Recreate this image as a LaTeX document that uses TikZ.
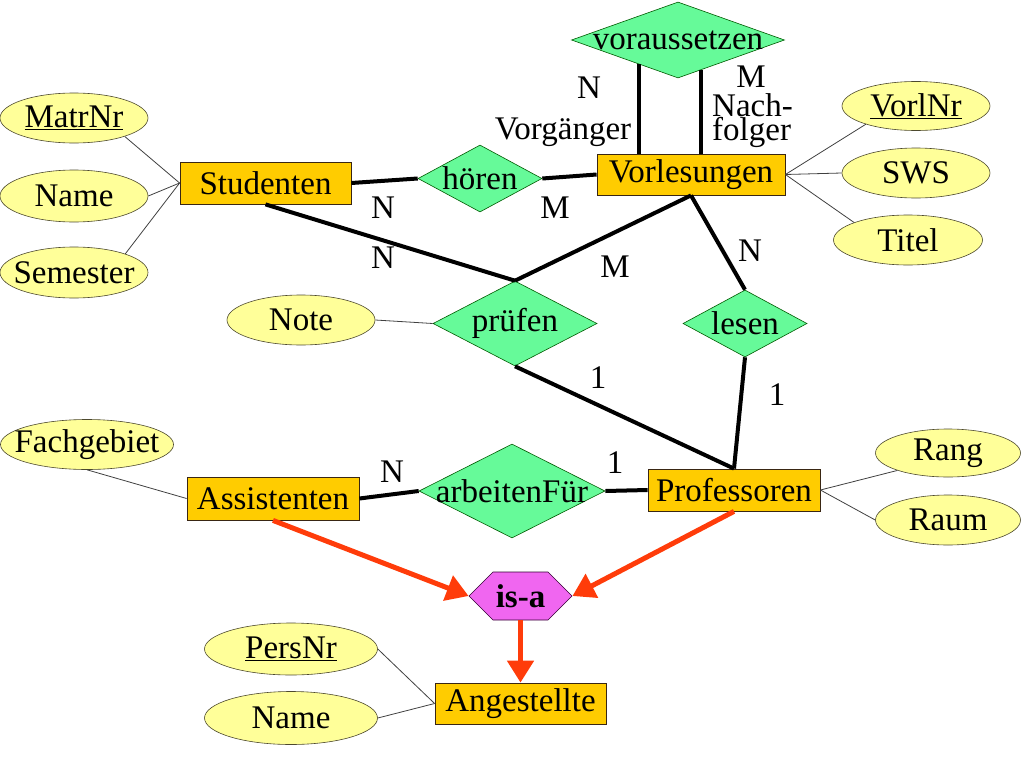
\documentclass[tikz,border=0pt]{standalone}
\usepackage{fontspec}
\setmainfont{Liberation Serif}
\usepackage{tikz}
\usetikzlibrary{shapes,arrows.meta}

\definecolor{entorange}{RGB}{255,204,0}
\definecolor{relgreen}{RGB}{102,250,153}
\definecolor{attryellow}{RGB}{255,255,153}
\definecolor{isapink}{RGB}{240,102,240}
\definecolor{isared}{RGB}{255,60,10}

\begin{document}
\begin{tikzpicture}[x=1pt, y=-1pt, font=\fontsize{33}{36}\selectfont]
      \tikzstyle{zerowidth}=[execute at begin node={\hbox to 0pt\bgroup\hss}, execute at end node={\hss\egroup}]
      \tikzstyle{entity}=[rectangle, draw=black!70!brown, line width=0.8pt, fill=entorange, inner sep=0pt, minimum height=42pt]
      \tikzstyle{relation}=[diamond, draw=green!35!black, line width=0.6pt, fill=relgreen, inner sep=0pt, zerowidth]
      \tikzstyle{attribute}=[ellipse, draw=black!60!olive, line width=0.6pt, fill=attryellow, inner sep=0pt, minimum width=148pt, minimum height=50pt, zerowidth]
      \tikzstyle{isa}=[signal, signal to=east and west, signal pointer angle=90, draw=black!60!violet, line width=0.6pt, fill=isapink, inner sep=0pt, minimum width=103pt, minimum height=48pt, font=\fontsize{33}{36}\selectfont\bfseries]
      \tikzstyle{card}=[inner sep=0pt, anchor=base]
      \tikzstyle{link}=[draw, line width=4pt]
      \tikzstyle{attrlink}=[draw=black!75, line width=0.8pt]
      \tikzstyle{isalink}=[draw=isared, line width=5pt, -{Triangle[length=22pt,width=26pt]}]
      \useasboundingbox (0,0) rectangle (1024,768);

      % entities
      \node[entity, minimum width=171pt] (stud) at (265.5,183) {Studenten};
      \node[entity, minimum width=188pt, minimum height=41pt] (vorl) at (691,174.5) {Vorlesungen};
      \node[entity, minimum width=172pt, minimum height=43pt] (assi) at (273,498.5) {Assistenten};
      \node[entity, minimum width=172pt] (prof) at (734,490) {Professoren};
      \node[entity, minimum width=171pt, minimum height=41pt] (ange) at (520.5,703.5) {Angestellte};

      % relationships
      \node[relation, minimum width=213pt, minimum height=76pt] (vora) at (678,40) {voraussetzen};
      \node[relation, minimum width=124pt, minimum height=67pt] (hoer) at (480,178.5) {hören};
      \node[relation, minimum width=164pt, minimum height=85pt] (pruef) at (515,323.5) {prüfen};
      \node[relation, minimum width=124pt, minimum height=67pt] (lese) at (745,323.5) {lesen};
      \node[relation, minimum width=186pt, minimum height=94pt] (arbf) at (512,491) {arbeitenFür};
      \node[isa] (isa) at (520.5,596) {is-a};

      % attributes
      \node[attribute] (matr) at (74,118) {\underline{MatrNr}};
      \node[attribute, minimum height=52pt] (name) at (74,196) {Name};
      \node[attribute, minimum height=51pt] (seme) at (74,272.5) {Semester};
      \node[attribute, minimum height=49pt] (vnr) at (916,106) {\underline{VorlNr}};
      \node[attribute] (sws) at (916,173) {SWS};
      \node[attribute, minimum width=149pt] (titel) at (908,240) {Titel};
      \node[attribute] (note) at (301,320) {Note};
      \node[attribute, minimum width=173pt] (fach) at (87,444.5) {Fachgebiet};
      \node[attribute, minimum width=145pt, minimum height=48pt] (rang) at (948,453) {Rang};
      \node[attribute, minimum width=145pt] (raum) at (948,520) {Raum};
      \node[attribute, minimum width=173pt, minimum height=52pt] (pers) at (291,649) {\underline{PersNr}};
      \node[attribute, minimum width=173pt, minimum height=53pt] (aname) at (291,718) {Name};

      % cardinalities and roles
      \node[card] (cv1) at (589,98) {N};
      \node[card] (vorg) at (563,139) {Vorgänger};
      \node[card] (cv2) at (751,87) {M};
      \node[card, anchor=base west] (nach) at (712,116) {Nach-};
      \node[card, anchor=base west] (folg) at (712,140) {folger};
      \node[card] (ch1) at (383,218) {N};
      \node[card] (ch2) at (555,218) {M};
      \node[card] (cp1) at (383,268) {N};
      \node[card] (cp2) at (615,277) {M};
      \node[card] (cp3) at (598,388) {1};
      \node[card] (cl1) at (750,261) {N};
      \node[card] (cl2) at (777,405) {1};
      \node[card] (ca1) at (392,482) {N};
      \node[card] (ca2) at (615,473) {1};

      \path[link]
      (stud.east) edge (hoer.west)
      (hoer.east) edge (vorl.west)
      (stud.south) edge (pruef.north)
      (vorl.south) edge (pruef.north)
      (vorl.south) edge (lese.north)
      (pruef.south) edge (prof.north)
      (lese.south) edge (prof.north)
      (assi.east) edge (arbf.west)
      (arbf.east) edge (prof.west)
      (vora.212) edge (vora.212 |- vorl.north)
      (vora.308) edge (vora.308 |- vorl.north);

      \path[attrlink]
      (matr.-20) edge (stud.west)
      (name.east) edge (stud.west)
      (seme.20) edge (stud.west)
      (vnr.200) edge (vorl.east)
      (sws.west) edge (vorl.east)
      (titel.162) edge (vorl.east)
      (note.east) edge (pruef.west)
      (fach.south) edge (assi.west)
      (rang.199) edge (prof.east)
      (raum.west) edge (prof.east)
      (pers.east) edge (ange.west)
      (aname.east) edge (ange.west);

      % is-a arrows
      \draw[isalink] (assi.south) -- (isa.west);
      \draw[isalink] (prof.south) -- (isa.east);
      \draw[isalink] (isa.south) -- (ange.north);
    \end{tikzpicture}
\end{document}
